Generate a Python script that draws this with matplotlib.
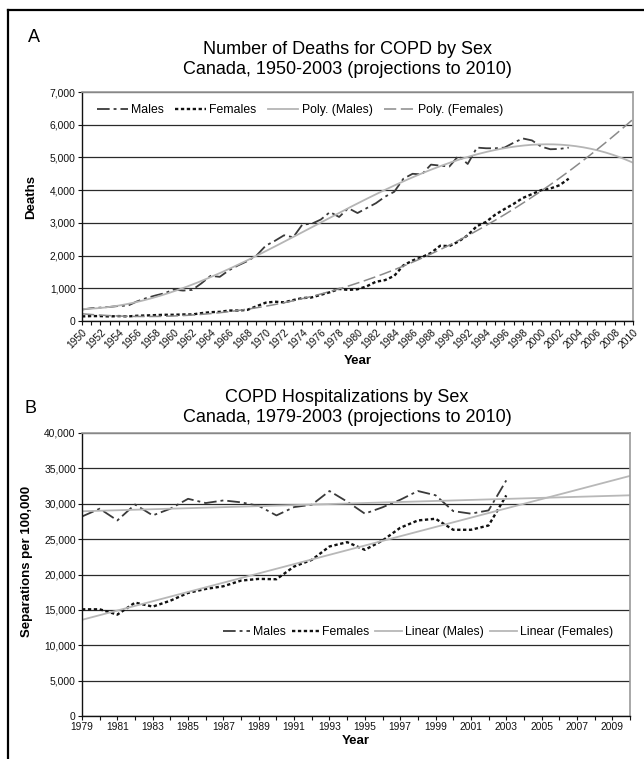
import numpy as np
import matplotlib
matplotlib.use("Agg")
import matplotlib.pyplot as plt
from matplotlib.lines import Line2D

plt.rcParams['font.family'] = ['Liberation Sans', 'DejaVu Sans']

# ---------------- data ----------------
# Panel A: COPD deaths, 1950-2003
years_a = list(range(1950, 2004))
deaths_males = [350, 390, 410, 430, 460, 470, 600, 700, 780, 850,
                960, 930, 950, 1150, 1380, 1350, 1550, 1700, 1830, 2000,
                2300, 2450, 2620, 2560, 2950, 2970, 3100, 3330, 3180, 3450,
                3300, 3450, 3600, 3800, 3950, 4350, 4500, 4480, 4780, 4750,
                4720, 5050, 4800, 5300, 5280, 5280, 5300, 5450, 5580, 5520,
                5330, 5250, 5260, 5300]
deaths_females = [140, 150, 150, 140, 150, 140, 160, 170, 180, 190,
                  190, 200, 200, 240, 270, 280, 320, 320, 340, 450,
                  560, 590, 570, 640, 700, 720, 800, 880, 980, 950,
                  970, 1060, 1200, 1250, 1380, 1700, 1850, 1950, 2080, 2300,
                  2290, 2430, 2620, 2900, 3030, 3250, 3420, 3580, 3760, 3880,
                  4000, 4050, 4150, 4350]
proj_end_a = 2010

# Panel B: COPD hospitalizations, 1979-2003
years_b = list(range(1979, 2004))
hosp_males = [28200, 29300, 27640, 29900, 28350, 29300, 30700, 30100, 30470, 30200,
              29700, 28350, 29530, 29860, 31800, 30300, 28600, 29500, 30560, 31800,
              31200, 28960, 28600, 29060, 33300]
hosp_females = [15080, 15080, 14330, 16030, 15460, 16300, 17400, 17960, 18340, 19140,
                19380, 19330, 21130, 22070, 23960, 24570, 23490, 24800, 26600, 27640,
                27880, 26320, 26320, 26930, 31180]
proj_end_b = 2010

# ---------------- trendlines (least squares, as in the original chart) ----------------
def trend(x, y, order, x_end):
    x = np.asarray(x, float)
    coef = np.polyfit(x - x[0], y, order)
    xx = np.linspace(x[0], x_end, 300)
    return xx, np.polyval(coef, xx - x[0])

W, H = 644, 759
fig = plt.figure(figsize=(W / 100, H / 100), dpi=100)

def fx(px):
    return px / W

def fy(py):
    return 1 - py / H

males_style = dict(color='#3a3a3a', lw=1.3, ls=(0, (7, 2.2, 1.6, 2.2)))
females_style = dict(color='#111111', lw=1.7, ls=(0, (1.4, 1.1)))

def style_axes(ax):
    ax.set_axisbelow(True)
    ax.yaxis.grid(True, color='#2a2a2a', lw=0.9)
    for s in ['top', 'right']:
        ax.spines[s].set_color('#9a9a9a')
        ax.spines[s].set_linewidth(1.2)
    for s in ['left', 'bottom']:
        ax.spines[s].set_color('#111111')
        ax.spines[s].set_linewidth(1.0)
    ax.tick_params(axis='both', which='both', direction='out', length=3, width=0.8,
                   colors='#111111', labelsize=7.4, pad=1.5)

# ---------------- panel A ----------------
axA = fig.add_axes([fx(82), fy(321), fx(633) - fx(82), fy(92) - fy(321)])
style_axes(axA)
axA.plot(years_a, deaths_males, label='Males', **males_style)
axA.plot(years_a, deaths_females, label='Females', **females_style)
xx, yy = trend(years_a, deaths_males, 3, proj_end_a)
axA.plot(xx, yy, color='#b5b5b5', lw=1.3, label='Poly. (Males)')
xx, yy = trend(years_a, deaths_females, 3, proj_end_a)
axA.plot(xx, yy, color='#8a8a8a', lw=1.1, ls=(0, (8, 3)), label='Poly. (Females)')
axA.set_xlim(1950, 2010)
axA.set_ylim(0, 7000)
axA.set_yticks(range(0, 7001, 1000))
axA.set_yticklabels([f'{v:,}' for v in range(0, 7001, 1000)])
axA.set_xticks(range(1950, 2011, 2))
axA.set_xticks(range(1950, 2011, 1), minor=True)
axA.set_xticklabels([str(y) for y in range(1950, 2011, 2)], rotation=45,
                    ha='right', rotation_mode='anchor')
axA.set_xlabel('Year', fontsize=9.5, fontweight='bold', labelpad=3)
axA.set_ylabel('Deaths', fontsize=9.5, fontweight='bold')
axA.yaxis.set_label_coords(-0.082, 0.54)
axA.legend(loc='center', bbox_to_anchor=(0.396, 0.921), ncol=4, frameon=False,
           fontsize=8.8, handlelength=2.5, handletextpad=0.3, columnspacing=0.9)

# ---------------- panel B ----------------
axB = fig.add_axes([fx(82), fy(716), fx(630) - fx(82), fy(433) - fy(716)])
style_axes(axB)
axB.plot(years_b, hosp_males, label='Males', **males_style)
axB.plot(years_b, hosp_females, label='Females', **females_style)
xx, yy = trend(years_b, hosp_males, 1, proj_end_b)
axB.plot(xx, yy, color='#b8b8b8', lw=1.3, label='Linear (Males)')
xx, yy = trend(years_b, hosp_females, 1, proj_end_b)
axB.plot(xx, yy, color='#b8b8b8', lw=1.3, label='Linear (Females)')
axB.set_xlim(1979, 2010)
axB.set_ylim(0, 40000)
axB.set_yticks(range(0, 40001, 5000))
axB.set_yticklabels([f'{v:,}' for v in range(0, 40001, 5000)])
axB.set_xticks(range(1979, 2010, 2))
axB.set_xticks(range(1979, 2011, 1), minor=True)
axB.set_xlabel('Year', fontsize=9.5, fontweight='bold', labelpad=2)
axB.set_ylabel('Separations per 100,000', fontsize=9.5, fontweight='bold')
axB.yaxis.set_label_coords(-0.09, 0.545)
axB.legend(loc='center', bbox_to_anchor=(0.613, 0.297), ncol=4, frameon=False,
           fontsize=8.8, handlelength=2.2, handletextpad=0.25, columnspacing=0.5)

# ---------------- titles ----------------
fig.text(fx(34), fy(38), 'A', fontsize=13, ha='center', va='center')
fig.text(fx(347), fy(49), 'Number of Deaths for COPD by Sex', fontsize=13,
         ha='center', va='center')
fig.text(fx(347), fy(70), 'Canada, 1950-2003 (projections to 2010)', fontsize=13,
         ha='center', va='center')
fig.text(fx(31), fy(409), 'B', fontsize=13, ha='center', va='center')
fig.text(fx(347), fy(397), 'COPD Hospitalizations by Sex', fontsize=13,
         ha='center', va='center')
fig.text(fx(347), fy(418), 'Canada, 1979-2003 (projections to 2010)', fontsize=13,
         ha='center', va='center')

# outer frame (cropped on the right and bottom)
fig.add_artist(Line2D([fx(8), fx(8)], [fy(10), 0], color='black', lw=1.6))
fig.add_artist(Line2D([fx(8), 1], [fy(10), fy(10)], color='black', lw=1.6))

fig.savefig('out.png', dpi=100)
